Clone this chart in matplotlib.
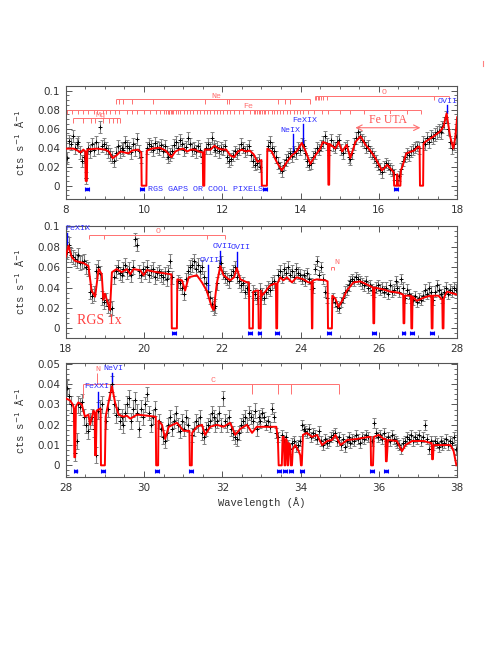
import numpy as np
import matplotlib
matplotlib.use("Agg")
import matplotlib.pyplot as plt
from matplotlib.lines import Line2D
from matplotlib.ticker import MultipleLocator

nan = np.nan
BIN = 0.05  # bin width (A)

# ---------------- data, in units of 1e-3 cts/s/A ----------------
# panel 1 : 8 - 18 A, bins start at 8.025
flux1 = [29, 47, 44, 52, 40, 44, 46, 35, 26, 30,
         8, 40, 36, 44, 38, 46, 40, 62, 42, 44,
         40, 36, 33, 30, 26, 34, 42, 36, 40, 38,
         46, 42, 40, 35, 44, 38, 49, 36, 30, nan,
         nan, 40, 44, 42, 38, 45, 41, 39, 43, 37,
         42, 35, 30, 33, 36, 43, 46, 40, 48, 44,
         38, 41, 50, 44, 38, 40, 36, 42, 38, 30,
         nan, 40, 44, 40, 50, 42, 38, 41, 36, 40,
         38, 42, 30, 26, 28, 32, 36, 34, 38, 44,
         40, 36, 38, 42, 32, 26, 22, 24, 27, 20,
         nan, nan, nan, 42, 46, 40, 36, 30, 24, 19, 15, 22, 27,
         30, 34, 31, 36, 34, 40, 38, 44, 42, 34,
         26, 22, 24, 30, 34, 40, 38, 42, 46, 52,
         44, 38, 48, 42, 40, 46, 48, 38, 34, 40,
         42, 30, 28, 34, 44, 50, 56, 52, 48, 46,
         40, 42, 36, 34, 30, 26, 22, 18, 14, 20,
         24, 22, 18, 16, 12, nan, 6, 10, 18, 26,
         30, 34, 32, 36, 38, 40, 42, 40, nan, 46,
         44, 50, 46, 52, 50, 54, 56, 58, 56, 62,
         66, 72, 60, 46, 40, 44, 52]
err1 = [6.5, 6.5, 6.5, 6.5, 6, 6, 6, 6, 5.5, 6.5]  # per 1 A segment

# panel 2 : 18 - 28 A
flux2 = [75, 82, 72, 70, 68, 66, 72, 64, 65, 66,
         60, 58, 36, 32, 34, 56, 60, 54, 30, 26,
         28, 22, 19, 20, 50, 56, 60, 54, 52, 58,
         62, 55, 58, 52, 60, 87, 82, 56, 52, 58,
         55, 60, 52, 56, 58, 50, 54, 56, 52, 50,
         54, 48, 56, 66, 50, nan, nan, 46, 44, 40,
         34, 48, 56, 60, 62, 66, 58, 62, 56, 60,
         50, 44, 36, 30, 24, 20, 22, 44, 60, 64,
         54, 50, 48, 46, 52, 56, 60, 50, 46, 42,
         44, 36, 40, 38, nan, 36, 34, 30, nan, 38,
         34, 30, 36, 40, 38, 44, 46, nan, 52, 56,
         50, 58, 54, 60, 52, 56, 50, 58, 54, 52,
         48, 52, 46, 54, 48, 44, 40, 58, 66, 52,
         60, 48, 36, 30, nan, nan, 30, 26, 22, 20,
         26, 30, 36, 38, 42, 46, 48, 46, 50, 48,
         46, 44, 42, 46, 40, 42, 38, 36, 40, 42,
         38, 40, 36, 40, 34, 42, 36, 38, 46, 40,
         36, 48, 40, 30, 38, 34, 30, 28, 32, 26,
         30, 28, 32, 38, 34, 40, 36, 28, 36, 42,
         38, 34, 30, 36, 40, 34, 38, 36, 40, 38]
err2 = [7, 6.5, 6.5, 6.5, 6, 6, 5, 5, 5, 5]

# panel 3 : 28 - 38 A
flux3 = [38, 34, 30, 26, 6, 12, 30, 29, 31, 24,
         20, 17, 22, 24, 18, 5, 27, 28, 30, nan,
         22, 28, 36, 40, 30, 25, 28, 22, 24, 20,
         26, 30, 33, 22, 28, 32, 26, 18, 28, 24,
         30, 35, 26, 20, 24, 28, nan, 22, 18, 14,
         12, 16, 20, 24, 18, 22, 26, 20, 17, 22,
         18, 24, 20, nan, 15, 18, 22, 20, 24, 16,
         14, 18, 20, 22, 26, 24, 20, 22, 26, 20,
         33, 22, 20, 24, 18, 16, 14, 13, 16, 20,
         22, 24, 20, 26, 24, 22, 27, 18, 24, 22,
         26, 24, 20, 22, 19, 28, 24, 16, 14, nan,
         15, 12, 14, 10, 8, 11, 12, 9, 10, 12,
         20, 18, 17, 16, 18, 14, 16, 15, 13, 17,
         12, 10, 13, 11, 12, 14, 15, 16, 12, 14,
         10, 13, 9, 12, 14, 11, 13, 12, 15, 13,
         11, 14, 13, 15, 14, nan, 12, 21, 16, 14,
         15, 13, 16, 12, 14, 12, 15, 13, 12, 11,
         10, 8, 11, 12, 14, 13, 15, 12, 14, 13,
         15, 12, 14, 20, 13, 8, 12, 10, 12, 11,
         9, 12, 10, 11, 13, 10, 12, 11, 14, 8]
err3 = [4, 4, 3.5, 3.5, 3.5, 2.5, 2.5, 2.5, 2.5, 2.5]

# ---------------- best-fit model (wavelength, 1e-3 cts/s/A) ----------------
model1 = [(8.0, 39), (8.2, 39), (8.3, 37), (8.38, 35), (8.45, 38), (8.5, 36), (8.51, 5), (8.54, 5),
          (8.55, 38), (8.8, 39), (9.0, 38), (9.1, 36), (9.2, 29), (9.3, 32), (9.4, 36), (9.6, 34),
          (9.7, 37), (9.85, 38), (9.93, 35), (9.94, 0), (10.06, 0), (10.07, 37), (10.2, 39), (10.4, 40),
          (10.55, 37), (10.7, 30), (10.8, 36), (10.9, 38), (11.0, 39), (11.1, 36), (11.2, 38), (11.3, 38),
          (11.4, 36), (11.5, 35), (11.51, 0), (11.54, 0), (11.55, 38), (11.7, 38), (11.8, 42), (11.9, 39),
          (12.0, 38), (12.1, 38), (12.2, 32), (12.3, 30), (12.4, 36), (12.5, 38), (12.6, 36), (12.7, 37),
          (12.8, 33), (12.9, 25), (13.0, 27), (13.01, 0), (13.14, 0), (13.15, 39), (13.26, 36), (13.39, 25),
          (13.52, 16), (13.65, 25), (13.78, 32), (13.9, 36), (14.03, 45), (14.12, 37), (14.25, 23),
          (14.38, 32), (14.5, 39), (14.57, 46), (14.7, 44), (14.71, 1), (14.73, 1), (14.74, 44),
          (14.89, 39), (14.97, 46), (15.06, 36), (15.18, 43), (15.27, 29), (15.4, 46), (15.53, 52),
          (15.66, 43), (15.78, 37), (15.91, 29), (16.08, 16), (16.21, 22), (16.34, 16), (16.38, 14),
          (16.39, 0), (16.46, 0), (16.47, 12), (16.49, 0), (16.55, 0), (16.56, 16), (16.6, 20), (16.7, 34),
          (16.9, 37), (17.0, 41), (17.04, 41), (17.05, 0), (17.13, 0), (17.14, 44), (17.18, 46), (17.4, 52),
          (17.56, 57), (17.65, 62), (17.73, 76), (17.82, 52), (17.9, 39), (17.95, 50), (18.0, 72)]

model2 = [(18.0, 70), (18.07, 81), (18.15, 70), (18.24, 66), (18.45, 64), (18.58, 61), (18.66, 37),
          (18.75, 31), (18.84, 58), (18.92, 53), (18.96, 28), (19.0, 34), (19.09, 23), (19.13, 18),
          (19.18, 55), (19.3, 58), (19.43, 55), (19.56, 58), (19.65, 53), (19.73, 58), (19.9, 57),
          (19.99, 52), (20.07, 57), (20.33, 55), (20.67, 53), (20.70, 53), (20.71, 0), (20.84, 0),
          (20.85, 48), (20.97, 47), (21.05, 37), (21.14, 50), (21.35, 52), (21.48, 45), (21.6, 37),
          (21.73, 21), (21.78, 18), (21.86, 44), (21.95, 61), (22.03, 52), (22.2, 47), (22.3, 50),
          (22.37, 59), (22.46, 48), (22.63, 45), (22.68, 45), (22.69, 0), (22.78, 0), (22.79, 36),
          (22.88, 37), (22.92, 37), (22.93, 0), (22.98, 0), (22.99, 37), (23.01, 32), (23.1, 36),
          (23.22, 42), (23.35, 44), (23.37, 44), (23.38, 0), (23.40, 0), (23.41, 44), (23.48, 50),
          (23.56, 47), (23.65, 50), (23.78, 45), (23.9, 50), (24.07, 48), (24.2, 45), (24.28, 45),
          (24.29, 0), (24.30, 0), (24.31, 47), (24.42, 48), (24.63, 47), (24.69, 46), (24.70, 0),
          (24.80, 0), (24.81, 32), (24.89, 29), (24.97, 21), (25.06, 27), (25.18, 37), (25.35, 45),
          (25.52, 46), (25.69, 43), (25.85, 40), (25.86, 5), (25.88, 5), (25.89, 40), (26.12, 38),
          (26.29, 36), (26.5, 35), (26.62, 33), (26.63, 5), (26.65, 5), (26.66, 32), (26.8, 32),
          (26.82, 32), (26.83, 0), (26.85, 0), (26.86, 31), (26.97, 27), (27.14, 30), (27.31, 32),
          (27.34, 32), (27.35, 0), (27.37, 0), (27.38, 32), (27.52, 32), (27.62, 28), (27.63, 0),
          (27.65, 0), (27.66, 30), (27.74, 36), (28.0, 33)]

model3 = [(28.0, 33), (28.11, 32), (28.18, 30), (28.21, 28), (28.22, 4), (28.24, 4), (28.26, 29),
          (28.32, 31), (28.41, 30), (28.49, 24), (28.58, 25), (28.62, 20), (28.66, 23), (28.71, 27),
          (28.74, 26), (28.75, 5), (28.77, 5), (28.79, 27), (28.88, 28), (28.89, 28), (28.90, 0),
          (29.0, 0), (29.02, 24), (29.05, 27), (29.18, 39), (29.26, 31), (29.35, 25), (29.47, 24),
          (29.56, 24.5), (29.65, 23), (29.82, 25), (30.07, 24.5), (30.28, 24), (30.30, 24), (30.31, 0),
          (30.36, 0), (30.37, 22), (30.46, 20), (30.54, 13), (30.63, 19), (30.84, 21), (31.01, 17),
          (31.16, 17), (31.17, 0), (31.22, 0), (31.23, 16), (31.35, 19), (31.48, 20), (31.56, 15),
          (31.69, 19), (31.86, 20), (32.03, 19), (32.2, 21), (32.33, 15), (32.46, 18), (32.63, 20),
          (32.76, 16), (32.88, 19), (33.05, 19), (33.38, 19), (33.42, 13), (33.44, 0), (33.52, 0),
          (33.54, 14), (33.57, 14), (33.59, 0), (33.61, 0), (33.63, 13), (33.65, 12), (33.67, 0),
          (33.68, 0), (33.70, 11), (33.73, 10), (33.75, 0), (33.78, 0), (33.80, 8), (33.86, 10),
          (33.95, 7), (33.99, 5), (34.01, 0), (34.03, 0), (34.06, 15), (34.16, 16), (34.29, 14),
          (34.42, 15), (34.55, 10), (34.68, 12), (34.8, 12.5), (34.89, 15), (35.02, 10), (35.19, 12.5),
          (35.44, 13), (35.74, 14), (35.79, 14), (35.80, 0), (35.85, 0), (35.87, 14), (36.0, 15),
          (36.12, 13), (36.17, 13), (36.18, 2), (36.20, 2), (36.23, 12.5), (36.46, 12), (36.59, 7),
          (36.68, 10), (36.85, 12), (37.15, 12), (37.32, 11), (37.35, 11), (37.36, 3), (37.38, 3),
          (37.4, 10), (37.57, 10), (37.83, 10), (37.91, 7), (37.98, 0)]

# instrumental gaps / cool pixels (A)
gaps1 = [8.54, 9.94, 13.08, 16.44]
gaps2 = [20.77, 22.71, 22.95, 23.40, 24.73, 25.87, 26.63, 26.84, 27.36]
gaps3 = [28.25, 28.96, 30.33, 31.20, 33.44, 33.59, 33.76, 34.04, 35.83, 36.19]

# line identifications (A)
mg_lines = [8.19, 8.43, 8.65, 8.76, 8.95, 9.10, 9.22, 9.32, 9.39]
ne_lines = [9.29, 9.35, 9.47, 9.69, 10.24, 11.55, 12.12, 12.18, 13.43, 13.60, 13.73, 14.24]
fe_lines = [8.04, 8.15, 8.31, 8.45, 8.58, 8.71, 8.79, 8.94, 9.02, 9.13, 9.26, 9.37, 9.56, 9.69,
            9.82, 9.99, 10.16, 10.31, 10.41, 10.50, 10.57, 10.60, 10.63, 10.65, 10.69, 10.71,
            10.75, 10.81, 10.86, 10.92, 11.01, 11.09, 11.18, 11.26, 11.35, 11.43, 11.52, 11.61,
            11.69, 11.78, 11.86, 11.95, 12.03, 12.12, 12.20, 12.29, 12.42, 12.54, 12.71, 12.80,
            12.84, 12.88, 12.93, 12.97, 13.01, 13.06, 13.10, 13.16, 13.26, 13.31, 13.39, 13.48,
            13.56, 13.65, 13.73, 13.82, 13.90, 13.99, 14.07, 14.20, 14.33, 14.54, 14.71, 15.01,
            15.27, 15.61, 16.29, 16.72, 17.07]
o1_lines = [14.36, 14.40, 14.44, 14.48, 14.53, 14.57, 14.67, 17.40, 17.80]
o2_lines = [18.60, 18.97, 21.60, 22.06]
n2_lines = [24.78, 24.85]
c_lines = [28.45, 32.76, 33.42, 33.76, 34.97]
n3_lines = [28.79]
fe_uta = (15.4, 17.06)

RED = "#ff0000"
IDRED = "#ff7070"
BLUE = "#3030ff"
MONO = "Liberation Mono"
SERIF = "Liberation Serif"

fig = plt.figure(figsize=(4.98, 6.45), dpi=100)
axes = [fig.add_axes([0.132, 0.6915, 0.786, 0.1757]),
        fig.add_axes([0.132, 0.4755, 0.786, 0.1746]),
        fig.add_axes([0.132, 0.2600, 0.786, 0.1767])]


def draw_panel(ax, start, flux, err, model, gaps, gap_y, ylim, ymaj, ymin):
    flux = np.array(flux, dtype=float) * 1e-3
    wl = start + BIN / 2 + BIN * np.arange(len(flux))
    e = np.repeat(err, 20)[:len(flux)] * 1e-3
    ax.errorbar(wl, flux, yerr=e, fmt='+', ms=2.5, mew=0.7, color='black',
                ecolor='#808080', elinewidth=0.8, capsize=1.4, capthick=0.7, zorder=2)
    m = np.array(model, dtype=float)
    ax.plot(m[:, 0], m[:, 1] * 1e-3, color=RED, lw=1.4, zorder=3)
    ax.errorbar(gaps, [gap_y] * len(gaps), xerr=0.05, fmt='s', ms=1.8, color='blue',
                elinewidth=1.0, capsize=1.5, capthick=0.8, zorder=3)
    ax.set_xlim(start, start + 10)
    ax.set_ylim(*ylim)
    ax.xaxis.set_major_locator(MultipleLocator(2))
    ax.xaxis.set_minor_locator(MultipleLocator(0.5))
    ax.yaxis.set_major_locator(MultipleLocator(ymaj))
    ax.yaxis.set_minor_locator(MultipleLocator(ymin))
    ax.tick_params(which='both', direction='in', top=True, right=True,
                   labelsize=7.5, labelcolor='#333333', color='#555555', pad=4)
    ax.tick_params(which='major', length=4, width=0.7)
    ax.tick_params(which='minor', length=2, width=0.6)
    ax.yaxis.set_major_formatter(plt.FuncFormatter(lambda v, p: ('%g' % round(v, 3))))
    for s in ax.spines.values():
        s.set_color('#555555')
        s.set_linewidth(0.8)
    ax.set_ylabel('cts s$^{-1}$ Å$^{-1}$', fontsize=7.5, family=MONO, color='#333333')
    ax.yaxis.set_label_coords(-0.1, 0.5)


def bracket(ax, lines, y, tl, lw=0.7):
    ax.hlines(y, min(lines), max(lines), color=IDRED, lw=lw)
    ax.vlines(lines, y - tl, y, color=IDRED, lw=lw)


def blue_id(ax, name, x, y0, y1, tx, ha='center'):
    ax.plot([x, x], [y0, y1], color='blue', lw=1.0)
    ax.text(tx, y1 + 0.0008, name, color=BLUE, fontsize=6, family=MONO, ha=ha, va='bottom')


def red_label(ax, name, x, y):
    ax.text(x, y, name, color=IDRED, fontsize=6, family=MONO, ha='center', va='center')


ax1, ax2, ax3 = axes
draw_panel(ax1, 8, flux1, err1, model1, gaps1, -0.0035, (-0.014, 0.1053), 0.02, 0.005)
draw_panel(ax2, 18, flux2, err2, model2, gaps2, -0.0049, (-0.0097, 0.1005), 0.02, 0.005)
draw_panel(ax3, 28, flux3, err3, model3, gaps3, -0.0028, (-0.0059, 0.0503), 0.01, 0.0025)

# panel 1 identifications
bracket(ax1, mg_lines, 0.071, 0.005)
bracket(ax1, ne_lines, 0.091, 0.005)
bracket(ax1, fe_lines, 0.080, 0.005)
bracket(ax1, o1_lines, 0.0947, 0.005)
red_label(ax1, 'Mg', 8.9, 0.0735)
red_label(ax1, 'Ne', 11.86, 0.0944)
red_label(ax1, 'Fe', 12.67, 0.0830)
red_label(ax1, 'O', 16.14, 0.0980)
blue_id(ax1, 'NeIX', 13.80, 0.034, 0.054, 13.75)
blue_id(ax1, 'FeXIX', 14.05, 0.043, 0.0646, 14.1)
blue_id(ax1, 'OVII', 17.74, 0.076, 0.0846, 17.75)
ax1.annotate('', xy=(fe_uta[0], 0.061), xytext=(fe_uta[1], 0.061),
             arrowprops=dict(arrowstyle='<->', color=IDRED, lw=0.8, shrinkA=0, shrinkB=0))
ax1.text(sum(fe_uta) / 2, 0.0625, 'Fe UTA', color='#ff5050', fontsize=8.5, family=SERIF,
         ha='center', va='bottom', bbox=dict(fc='white', ec='none', pad=0.3))
ax1.text(10.11, -0.0035, 'RGS GAPS OR COOL PIXELS', color=BLUE, fontsize=6, family=MONO,
         ha='left', va='center')

# panel 2 identifications
bracket(ax2, o2_lines, 0.0913, 0.004)
red_label(ax2, 'O', 20.37, 0.0945)
bracket(ax2, n2_lines, 0.0605, 0.003)
red_label(ax2, 'N', 24.92, 0.0645)
blue_id(ax2, 'FeXIX', 18.04, 0.082, 0.0936, 18.0, ha='left')
blue_id(ax2, 'OVII', 21.63, 0.039, 0.062, 21.67)
blue_id(ax2, 'OVII', 21.95, 0.063, 0.076, 22.02)
blue_id(ax2, 'OVII', 22.37, 0.060, 0.0745, 22.48)
ax2.text(18.28, 0.008, 'RGS 1x', color='#ff4040', fontsize=10, family=SERIF, ha='left', va='center')

# panel 3 identifications
ax3.hlines(0.040, min(c_lines), max(c_lines), color=IDRED, lw=0.7)
ax3.vlines(c_lines, [0.033, 0.035, 0.035, 0.035, 0.035], 0.040, color=IDRED, lw=0.7)
red_label(ax3, 'C', 31.77, 0.0417)
ax3.vlines(n3_lines, 0.040, 0.0455, color=IDRED, lw=0.7)
red_label(ax3, 'N', 28.83, 0.0475)
blue_id(ax3, 'FeXXI', 28.83, 0.028, 0.0363, 28.78)
blue_id(ax3, 'NeVI', 29.18, 0.0388, 0.0454, 29.22)
ax3.set_xlabel('Wavelength (Å)', fontsize=7.5, family=MONO, color='#333333', labelpad=3)

fig.add_artist(Line2D([483 / 498, 483 / 498], [1 - 61 / 645, 1 - 66 / 645], color='#ff8080', lw=0.8))

fig.savefig('out.png', dpi=100)
